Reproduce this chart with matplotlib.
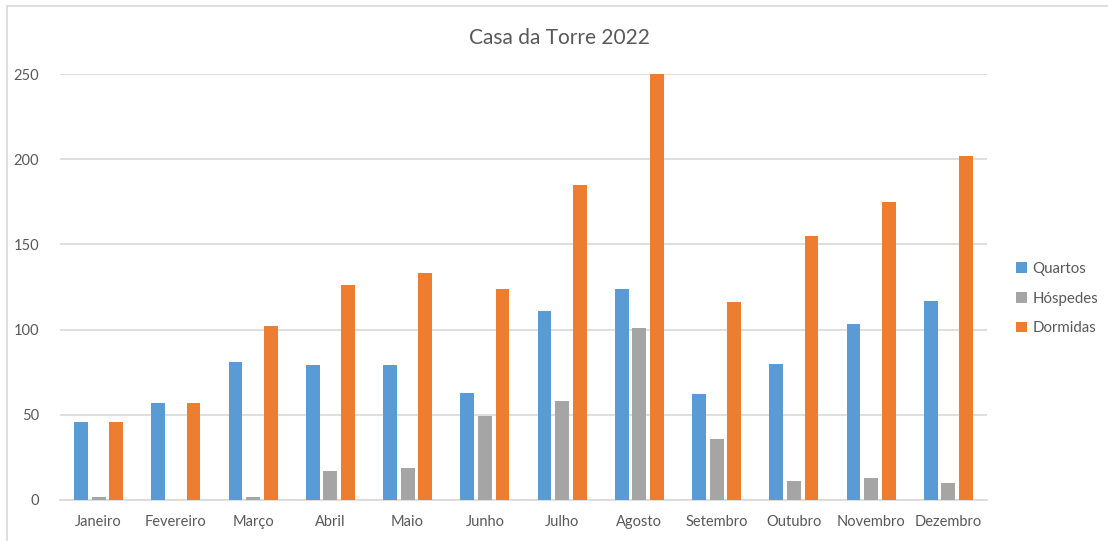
import matplotlib
matplotlib.use("Agg")
import matplotlib.pyplot as plt
import numpy as np
from matplotlib.patches import Rectangle, Patch

months = ["Janeiro", "Fevereiro", "Março", "Abril", "Maio", "Junho",
          "Julho", "Agosto", "Setembro", "Outubro", "Novembro", "Dezembro"]
quartos = [46, 57, 81, 79, 79, 63, 111, 124, 62, 80, 103, 117]
hospedes = [2, 0, 2, 17, 19, 49, 58, 101, 36, 11, 13, 10]
dormidas = [46, 57, 102, 126, 133, 124, 185, 250, 116, 155, 175, 202]
series_names = ["Quartos", "Hóspedes", "Dormidas"]
y_ticks = [0, 50, 100, 150, 200, 250]

colors = ["#5b9bd5", "#a5a5a5", "#ed7d31"]
text_color = "#595959"
grid_color = "#d9d9d9"

plt.rcParams["font.family"] = ["Lato", "DejaVu Sans"]

fig = plt.figure(figsize=(11.08, 5.41), dpi=100)
ax = fig.add_axes([60 / 1108, 0.0758, 927 / 1108, 0.7874])

# outer chart border
fig.patches.append(Rectangle((7 / 1108, -0.01), 1.02, 1 - 6 / 541 + 0.01,
                             transform=fig.transFigure, fill=False,
                             edgecolor="#d9d9d9", linewidth=1.2))

x = np.arange(len(months))
offset = 0.227
width = 0.178
for i, (vals, c) in enumerate(zip([quartos, hospedes, dormidas], colors)):
    ax.bar(x + (i - 1) * offset, vals, width=width, color=c, zorder=3)

ax.set_xlim(-0.5, len(months) - 0.5)
ax.set_ylim(0, 250)
ax.set_yticks(y_ticks)
ax.set_xticks(x)
ax.set_xticklabels(months)
ax.tick_params(axis="both", length=0, colors=text_color, labelsize=10.5)
ax.tick_params(axis="x", pad=11)
ax.tick_params(axis="y", pad=15)
ax.grid(axis="y", color=grid_color, linewidth=1.2, zorder=0)
for side in ["top", "right", "left"]:
    ax.spines[side].set_visible(False)
ax.spines["bottom"].set_color(grid_color)
ax.spines["bottom"].set_linewidth(1.2)

fig.text(0.505, 0.93, "Casa da Torre 2022", ha="center", va="center",
         fontsize=15, color=text_color)

handles = [Patch(facecolor=c) for c in colors]
fig.legend(handles, series_names, loc="center left",
           bbox_to_anchor=(0.905, 0.448), frameon=False,
           fontsize=10.8, labelcolor=text_color, handlelength=0.7,
           handleheight=0.7, handletextpad=0.4, labelspacing=1.05)

fig.savefig("out.png", dpi=100)
